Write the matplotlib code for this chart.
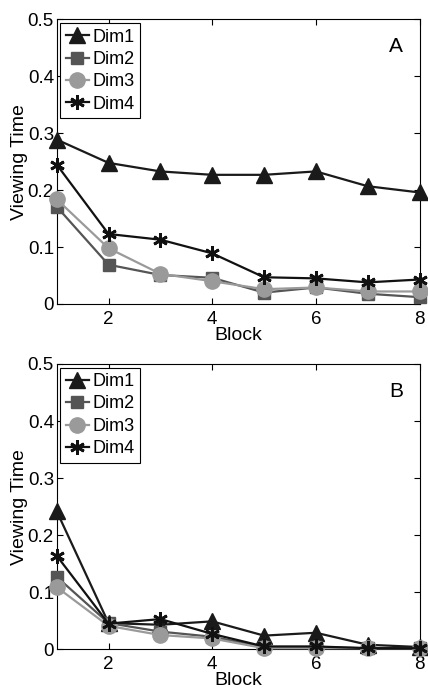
import matplotlib
matplotlib.use("Agg")
import matplotlib.pyplot as plt

plt.rcParams['font.family'] = ['Liberation Sans', 'DejaVu Sans']

blocks = [1, 2, 3, 4, 5, 6, 7, 8]
series_names = ["Dim1", "Dim2", "Dim3", "Dim4"]

a_dim1 = [0.289, 0.248, 0.233, 0.227, 0.227, 0.233, 0.207, 0.196]
a_dim2 = [0.171, 0.069, 0.051, 0.046, 0.020, 0.029, 0.018, 0.012]
a_dim3 = [0.184, 0.098, 0.053, 0.040, 0.026, 0.029, 0.022, 0.022]
a_dim4 = [0.245, 0.123, 0.113, 0.089, 0.047, 0.045, 0.038, 0.043]

b_dim1 = [0.242, 0.046, 0.043, 0.049, 0.024, 0.029, 0.008, 0.004]
b_dim2 = [0.127, 0.046, 0.031, 0.022, 0.004, 0.004, 0.002, 0.002]
b_dim3 = [0.109, 0.041, 0.025, 0.019, 0.002, 0.002, 0.002, 0.002]
b_dim4 = [0.164, 0.045, 0.053, 0.027, 0.005, 0.005, 0.002, 0.002]

panel_labels = ["A", "B"]
yticks = [0, 0.1, 0.2, 0.3, 0.4, 0.5]
ytick_labels = ["0", "0.1", "0.2", "0.3", "0.4", "0.5"]
xticks = [2, 4, 6, 8]

styles = [
    dict(color="#1a1a1a", marker="^", markersize=12, zorder=3),
    dict(color="#555555", marker="s", markersize=8.5, zorder=4),
    dict(color="#9a9a9a", marker="o", markersize=11, zorder=5),
    dict(color="#111111", marker=(6, 2, 0), markersize=10.5, markeredgewidth=2.0, zorder=6),
]

fig = plt.figure(figsize=(4.28, 6.89), dpi=100)
axA = fig.add_axes([0.1325, 0.5588, 0.8477, 0.4129])
axB = fig.add_axes([0.1325, 0.0576, 0.8477, 0.4141])

for ax, data, lab in [(axA, [a_dim1, a_dim2, a_dim3, a_dim4], panel_labels[0]),
                      (axB, [b_dim1, b_dim2, b_dim3, b_dim4], panel_labels[1])]:
    for name, vals, st in zip(series_names, data, styles):
        ax.plot(blocks, vals, label=name, linewidth=1.6, markeredgecolor=st["color"],
                clip_on=False, **st)
    ax.set_xlim(1, 8)
    ax.set_ylim(0, 0.5)
    ax.set_xticks(xticks)
    ax.set_yticks(yticks)
    ax.set_yticklabels(ytick_labels)
    ax.tick_params(direction="in", top=True, right=True, labelsize=13.5, length=4, pad=5)
    ax.tick_params(axis="y", pad=2)
    ax.set_xlabel("Block", fontsize=14, labelpad=-1)
    ax.set_ylabel("Viewing Time", fontsize=14, labelpad=0)
    for sp in ax.spines.values():
        sp.set_linewidth(0.8)
    leg = ax.legend(loc="upper left", fontsize=13, handlelength=1.3, handletextpad=0.2,
                    borderpad=0.3, labelspacing=0.3, borderaxespad=0.2,
                    fancybox=False, edgecolor="black", framealpha=1)
    leg.get_frame().set_linewidth(0.8)
    leg.set_zorder(10)
    ax.text(0.935, 0.905, lab, transform=ax.transAxes, fontsize=15, ha="center", va="center")

fig.savefig("out.png", dpi=100)
